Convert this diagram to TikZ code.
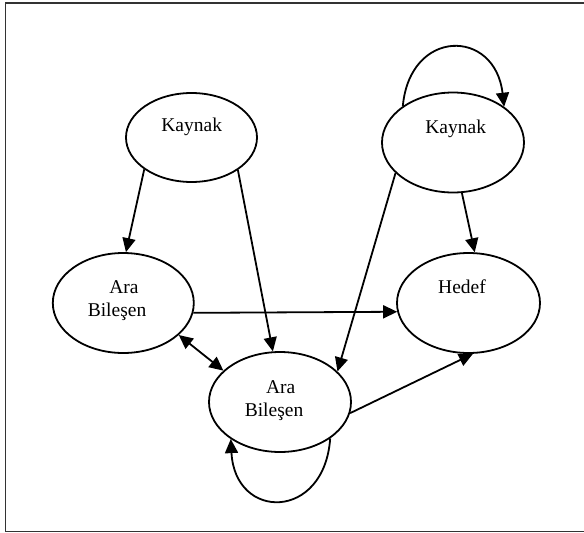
\documentclass[tikz,border=0pt]{standalone}
\usepackage{fontspec}
\setmainfont{Liberation Serif}
\usetikzlibrary{shapes.geometric,arrows.meta}

\tikzset{
  state/.style={draw, ellipse, line width=1.8pt, inner sep=0pt},
  lbl/.style={anchor=base, inner sep=0pt, font=\fontsize{19.5}{23}\selectfont},
  tip/.tip={Triangle[length=14pt,width=13pt]},
  conn/.style={line width=1.8pt, -tip},
  biconn/.style={line width=1.8pt, tip-tip},
  frame/.style={line width=1.8pt, draw=black!80}
}

\begin{document}
\begin{tikzpicture}[x=1pt, y=-1pt]
  \useasboundingbox (0,0) rectangle (584,533);
  \begin{scope}
    \clip (0,0) rectangle (584,533);
    \draw[frame] (5.5,3) rectangle (600,531.5);
  \end{scope}

  % states
  \node[state, minimum width=131pt, minimum height=89pt]  (k1) at (191.5,137.5) {};
  \node[state, minimum width=142pt, minimum height=100pt] (k2) at (453,142.5) {};
  \node[state, minimum width=141pt, minimum height=100pt] (a1) at (123.3,303) {};
  \node[state, minimum width=142pt, minimum height=100pt] (a2) at (280,402) {};
  \node[state, minimum width=143pt, minimum height=100pt] (h)  at (468.5,303) {};

  % labels
  \node[lbl] (k1t)  at (191.7,131.5) {Kaynak};
  \node[lbl] (k2t)  at (455.7,133.3) {Kaynak};
  \node[lbl] (ht)   at (462,293.3)   {Hedef};
  \node[lbl] (a1t1) at (124,293.3)   {Ara};
  \node[lbl] (a1t2) at (117,316.7)   {Bileşen};
  \node[lbl] (a2t1) at (280.7,393.3) {Ara};
  \node[lbl] (a2t2) at (274,416.7)   {Bileşen};

  % connectors
  \draw[conn] (k1.214) -- (a1.87);
  \draw[conn] (k1.325) -- (a2.98);
  \draw[conn] (k2.280) -- (h.83);
  \draw[conn] (k2.208.6) -- (a2.28.8);
  \draw[conn] (a1.352.4) -- (h.187.6);
  \draw[biconn] (a1.330.6) -- (a2.151.2);
  \draw[conn] (a2.351) -- (h.275);

  % self loops
  \draw[conn] (k2.144.5) .. controls (410,28) and (495,28) .. (k2.35.4);
  \draw[conn] (a2.324.6) .. controls (324.4,521) and (235,521) .. (a2.217.2);
\end{tikzpicture}
\end{document}
